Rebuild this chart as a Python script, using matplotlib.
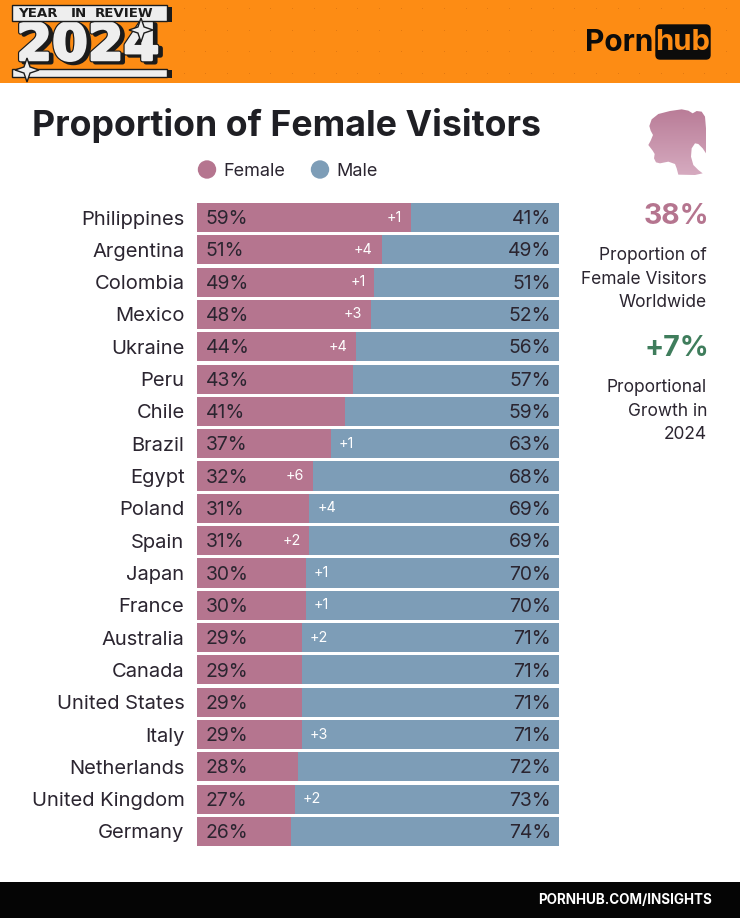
import matplotlib
matplotlib.use("Agg")
import matplotlib.pyplot as plt
import matplotlib.patheffects as pe
from matplotlib.colors import LinearSegmentedColormap
from matplotlib.patches import Circle, FancyBboxPatch, Polygon, Rectangle
import numpy as np

plt.rcParams['font.family'] = ['Inter', 'DejaVu Sans']

countries = ["Philippines", "Argentina", "Colombia", "Mexico", "Ukraine", "Peru", "Chile",
             "Brazil", "Egypt", "Poland", "Spain", "Japan", "France", "Australia", "Canada",
             "United States", "Italy", "Netherlands", "United Kingdom", "Germany"]
female = [59, 51, 49, 48, 44, 43, 41, 37, 32, 31, 31, 30, 30, 29, 29, 29, 29, 28, 27, 26]
male = [41, 49, 51, 52, 56, 57, 59, 63, 68, 69, 69, 70, 70, 71, 71, 71, 71, 72, 73, 74]
change = [1, 4, 1, 3, 4, 0, 0, 1, 6, 4, 2, 1, 1, 2, 0, 0, 3, 0, 2, 0]
change_inside = ["Philippines", "Argentina", "Colombia", "Mexico", "Ukraine", "Egypt", "Spain"]

PINK = "#b5758f"
BLUE = "#7d9db7"
DARK = "#2b2530"
INK = "#1b1b1b"
PAPER = "#eeeeee"

W, H = 740, 918
fig = plt.figure(figsize=(W / 100, H / 100), dpi=100, facecolor="white")

# page layer, in pixels from the top left
bg = fig.add_axes([0, 0, 1, 1])
bg.set_xlim(0, W)
bg.set_ylim(H, 0)
bg.axis("off")

# header
bg.add_patch(Rectangle((0, 0), W, 83, fc="#fd8c14", ec="none"))
for dx in np.arange(10, W, 21.7):
    for dy in np.arange(8, 80, 21.5):
        if dx > 172 and not (580 < dx < 715 and 20 < dy < 62):
            bg.plot(dx, dy, ".", ms=1.5, color="#dd7410", mew=0)

# year in review logo
t2024 = bg.text(88, 46, "2024", ha="center", va="center", fontsize=37, fontweight="bold",
                color=PAPER, family="DejaVu Sans", zorder=3)
t2024.set_path_effects([pe.Stroke(linewidth=3.5, foreground=INK, offset=(2.5, -1.5)),
                        pe.Stroke(linewidth=3.5, foreground=INK),
                        pe.Stroke(linewidth=1.8, foreground=PAPER),
                        pe.Normal()])
bg.add_patch(Rectangle((15, 7), 157, 15, fc=INK, ec="none", zorder=4))
bg.add_patch(Rectangle((12, 5), 155, 16, fc=PAPER, ec=INK, lw=1, zorder=4))
for word, wx in [("YEAR", 18), ("IN", 71), ("REVIEW", 95)]:
    bg.text(wx, 13.5, word, ha="left", va="center", fontsize=9.6, fontweight="bold",
            color=INK, family="DejaVu Sans", zorder=5)
bg.add_patch(Rectangle((15, 70), 157, 8, fc=INK, ec="none", zorder=4))
bg.add_patch(Rectangle((12, 69), 155, 8, fc=PAPER, ec=INK, lw=1, zorder=4))
for sx, sy, r in [(141, 30, 12), (27, 70, 12)]:
    angles = np.arange(8) * np.pi / 4
    radii = np.where(np.arange(8) % 2 == 0, r, r * 0.36)
    bg.add_patch(Polygon(np.c_[sx + radii * np.sin(angles), sy + radii * np.cos(angles)],
                         fc=PAPER, ec=INK, lw=1, zorder=6))

# site logo
bg.text(585, 43, "Porn", ha="left", va="center", fontsize=21.5, fontweight="bold", color="#0c0c0c")
bg.add_patch(FancyBboxPatch((656, 25), 54, 34, boxstyle="round,pad=0,rounding_size=4",
                            fc="#0c0c0c", ec="#0c0c0c", lw=1))
bg.text(683, 43, "hub", ha="center", va="center", fontsize=21, fontweight="bold", color="#fd8c14")

# title and legend
bg.text(32, 125.5, "Proportion of Female Visitors", ha="left", va="center", fontsize=25.7,
        fontweight="bold", color="#1f1f24")
bg.add_patch(Circle((207, 169.5), 9.2, fc=PINK, ec="none"))
bg.text(223, 171, "Female", ha="left", va="center", fontsize=13, color=DARK)
bg.add_patch(Circle((320, 169.5), 9.2, fc=BLUE, ec="none"))
bg.text(336, 171, "Male", ha="left", va="center", fontsize=13, color=DARK)

# head silhouette at 3x
trace = [(268, 378), (275, 358), (295, 342), (330, 333), (365, 328), (385, 332), (398, 340),
         (410, 333), (425, 335), (435, 350), (438, 385), (438, 425), (438, 460), (428, 445),
         (415, 432), (405, 430), (395, 445), (393, 470), (400, 495), (415, 510), (428, 520),
         (405, 525), (355, 524), (350, 505), (345, 492), (325, 485), (300, 490), (288, 487),
         (282, 475), (284, 462), (278, 452), (265, 435), (272, 422), (279, 405), (272, 392)]
head = Polygon([(560 + tx / 3, ty / 3) for tx, ty in trace], fc="none", ec="none")
bg.add_patch(head)
grad = np.linspace(0, 1, 64).reshape(-1, 1)
img = bg.imshow(grad, extent=(645, 710, 176, 108), aspect="auto", zorder=2,
                cmap=LinearSegmentedColormap.from_list("head", ["#b97c97", "#d6abc0"]))
img.set_clip_path(head)
bg.set_xlim(0, W)
bg.set_ylim(H, 0)

# side panel
bg.text(676, 217, "38%", ha="center", va="center", fontsize=20.5, fontweight="bold", color=PINK)
bg.text(707, 279, "Proportion of\nFemale Visitors\nWorldwide", ha="right", va="center",
        fontsize=12.5, color=DARK, linespacing=1.47)
bg.text(677, 349, "+7%", ha="center", va="center", fontsize=20.5, fontweight="bold", color="#3f7d5c")
bg.text(707, 411, "Proportional\nGrowth in\n2024", ha="right", va="center",
        fontsize=12.5, color=DARK, linespacing=1.47)

# footer
bg.add_patch(Rectangle((0, 882), W, 36, fc="#050505", ec="none"))
bg.text(712, 900.5, "PORNHUB.COM/INSIGHTS", ha="right", va="center", fontsize=9.7,
        fontweight="bold", color="white")

# bars
ax = fig.add_axes([197 / W, 1 - 846 / H, 362 / W, 643 / H])
ax.patch.set_alpha(0)
y = np.arange(len(countries))
ax.barh(y, female, height=0.9, color=PINK)
ax.barh(y, male, left=female, height=0.9, color=BLUE)
ax.set_xlim(0, 100)
ax.set_ylim(len(countries) - 0.55, -0.45)
ax.set_yticks(y, countries, fontsize=14.5, color=DARK)
ax.set_xticks([])
ax.tick_params(axis="y", length=0, pad=9)
for s in ax.spines.values():
    s.set_visible(False)

for i, name in enumerate(countries):
    ax.text(2.4, i + 0.05, f"{female[i]}%", ha="left", va="center", fontsize=13.9, color=DARK)
    ax.text(97.8, i + 0.05, f"{male[i]}%", ha="right", va="center", fontsize=13.9, color=DARK)
    if change[i]:
        if name in change_inside:
            ax.text(female[i] - 2.4, i, f"+{change[i]}", ha="right", va="center",
                    fontsize=10.3, color="white")
        else:
            ax.text(female[i] + 2.2, i, f"+{change[i]}", ha="left", va="center",
                    fontsize=10.3, color="white")

fig.savefig("out.png", dpi=100)
